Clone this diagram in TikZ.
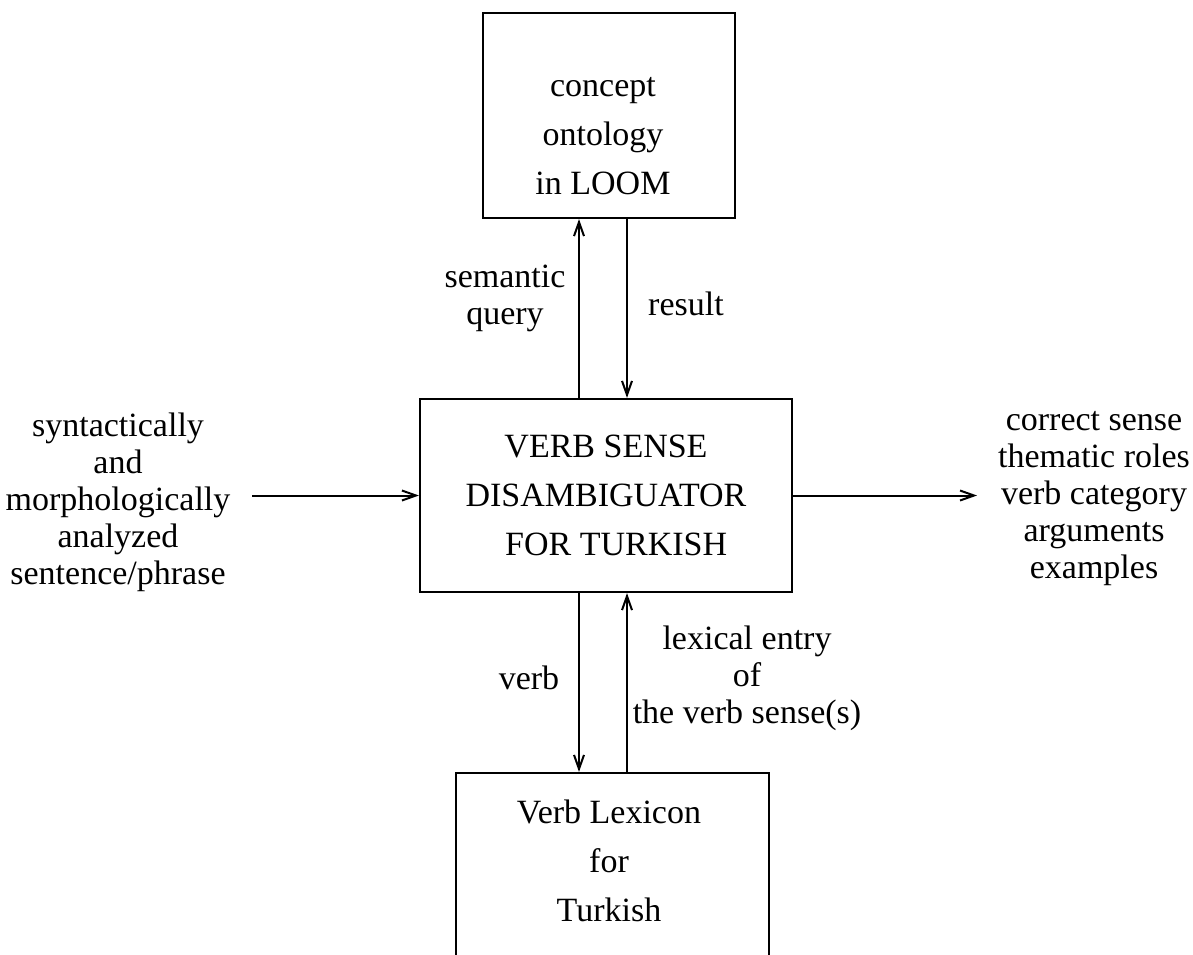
\documentclass[tikz,border=0pt]{standalone}
\usepackage{fontspec}
\setmainfont{Liberation Serif}
\usetikzlibrary{arrows.meta}
\begin{document}
\begin{tikzpicture}[x=0.5pt,y=-0.5pt,
  box/.style={draw, line width=1.1pt, inner sep=0pt},
  boxtext/.style={align=center, font=\fontsize{17}{24.5}\selectfont, inner sep=2pt},
  sidetext/.style={align=center, font=\fontsize{17}{18.5}\selectfont, inner sep=2pt},
  arr/.style={line width=1pt, -{Straight Barb[length=7pt,width=5pt]}},
]
\useasboundingbox (0,0) rectangle (1193,954);
\clip (0,0) rectangle (1193,954);

% the three boxes
\node[box, minimum width=126pt, minimum height=102.5pt] (onto) at (609,115.5) {};
\node[boxtext] (ontotext) at (603,136) {concept\\ontology\\in LOOM};

\node[box, boxtext, minimum width=186pt, minimum height=96.5pt] (vsd) at (606,495.5)
  {VERB SENSE\\DISAMBIGUATOR\\\hspace*{0.6em}FOR TURKISH};

\node[box, minimum width=156.5pt, minimum height=200pt] (lex) at (612.5,973) {};
\node[boxtext] (lextext) at (609,861) {Verb Lexicon\\for\\Turkish};

% vertical connectors
\coordinate (qfoot) at ([xshift=-13.5pt]vsd.north);
\coordinate (rfoot) at ([xshift=10.5pt]vsd.north);
\draw[arr] (qfoot) -- (qfoot |- onto.south);
\draw[arr] (rfoot |- onto.south) -- (rfoot);
\coordinate (vfoot) at ([xshift=-13.5pt]vsd.south);
\coordinate (lfoot) at ([xshift=10.5pt]vsd.south);
\draw[arr] (vfoot) -- (vfoot |- lex.north);
\draw[arr] (lfoot |- lex.north) -- (lfoot);

% input and output
\node[sidetext] (input) at (118,502) {syntactically\\and\\morphologically\\analyzed\\sentence/phrase};
\node[sidetext] (output) at (1094,499) {correct sense\\thematic roles\\verb category\\arguments\\examples};
\coordinate (instart) at (252,495.5);
\coordinate (outend) at (977,495.5);
\draw[arr] (instart) -- (vsd.west);
\draw[arr] (vsd.east) -- (outend);

% connector labels
\node[sidetext] (sq) at (505,298) {semantic\\query};
\node[sidetext] (res) at (686,304) {result};
\node[sidetext] (vb) at (529,678) {verb};
\node[sidetext] (lexent) at (747,678) {lexical entry\\of\\the verb sense(s)};
\end{tikzpicture}
\end{document}
